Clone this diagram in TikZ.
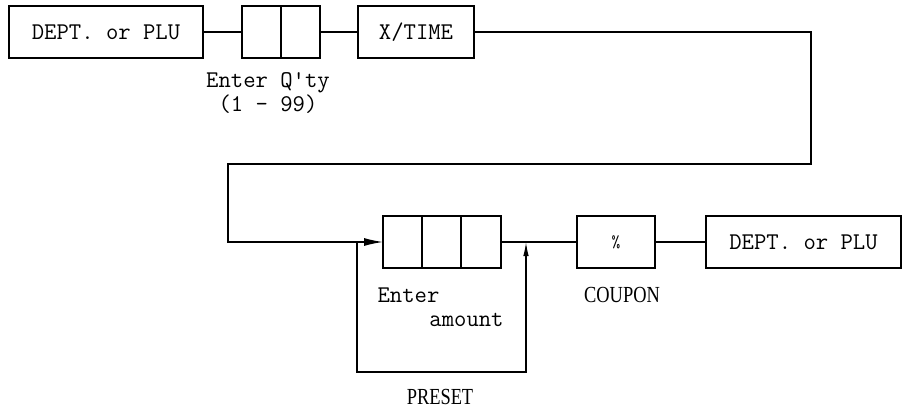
\documentclass[tikz,border=0pt]{standalone}
\usepackage{fontspec}
\newfontfamily\capfont[FakeStretch=0.8]{Liberation Serif}
\usetikzlibrary{arrows.meta,positioning}

\begin{document}
\begin{tikzpicture}[x=1pt,y=1pt,
    keybox/.style={draw,line width=1.3pt,minimum height=52pt,inner sep=0pt,outer sep=0pt,font=\ttfamily\fontsize{24}{21}\selectfont},
    cell/.style={keybox,minimum width=39pt},
    wire/.style={line width=1.3pt},
    note/.style={font=\ttfamily\fontsize{24}{21}\selectfont,inner sep=0pt},
    capnote/.style={font=\capfont\fontsize{23}{24}\selectfont,inner sep=0pt}]
    \useasboundingbox (0,0) rectangle (907,410);

    % top row
    \node[keybox,minimum width=194pt] (deptA) at (106,378) {DEPT. or PLU};
    \node[cell] (qtyA) at (261.5,378) {};
    \node[cell,right=0pt of qtyA] (qtyB) {};
    \node[keybox,minimum width=116pt] (xtime) at (416,378) {X/TIME};
    \node[note,align=center] (qtyLbl) at (268,317) {Enter Q'ty\\(1 - 99)};

    % bottom row
    \node[cell] (amtA) at (402.5,168) {};
    \node[cell,right=0pt of amtA] (amtB) {};
    \node[cell,right=0pt of amtB,minimum width=40pt] (amtC) {};
    \node[keybox,minimum width=78pt,font=\ttfamily\fontsize{17}{18}\selectfont] (pct) at (616,168) {\%};
    \node[keybox,minimum width=195pt] (deptB) at (803.5,168) {DEPT. or PLU};
    \node[note] (enterLbl) at (408.5,115) {Enter};
    \node[note] (amtLbl) at (466.5,90) {amount};
    \node[capnote] (coupon) at (622,115) {COUPON};
    \node[capnote] (preset) at (440,13) {PRESET};

    \coordinate (presetL) at (357,168);
    \coordinate (presetR) at (526,168);

    \draw[wire] (deptA.east) -- (qtyA.west);
    \draw[wire] (qtyB.east) -- (xtime.west);
    \draw[wire,-{Latex[length=19pt,width=8pt]}] (xtime.east) -| (811,246) -| (228,168) -- (amtA.west);
    \draw[wire,-{Latex[length=14pt,width=5.5pt]}] (presetL) -- ++(0,-130) -| (presetR);
    \draw[wire] (amtC.east) -- (pct.west);
    \draw[wire] (pct.east) -- (deptB.west);
\end{tikzpicture}
\end{document}
